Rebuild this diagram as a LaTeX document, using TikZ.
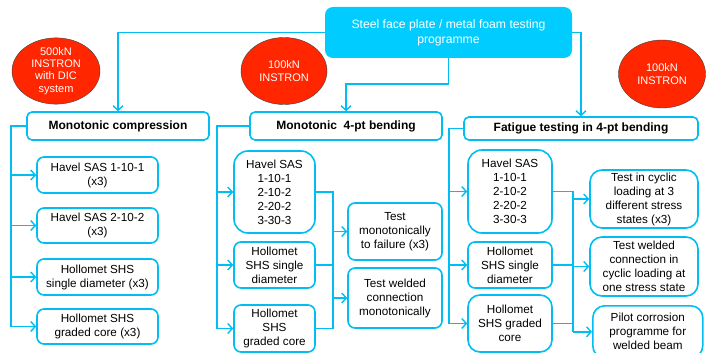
\documentclass[tikz,border=0pt]{standalone}
\usepackage{fontspec}
\setmainfont{Liberation Sans}
\usetikzlibrary{arrows.meta}
\usetikzlibrary{shapes.geometric}
\definecolor{skyline}{RGB}{0,190,242}
\definecolor{skyfill}{RGB}{0,204,255}
\definecolor{rigred}{RGB}{255,38,0}

\begin{document}
\begin{tikzpicture}[x=1pt, y=-1pt,
		conn/.style = {draw=skyline, line width=1.6pt},
		arr/.style = {conn, -{Straight Barb[length=4.5pt,width=10pt,line width=1.4pt]}},
		box/.style = {draw=skyline, line width=1.6pt, fill=white, rounded corners=7pt, align=center, inner sep=1pt,
			font=\fontsize{11.7}{14}\selectfont},
		head/.style = {box, rounded corners=5pt, font=\fontsize{12}{14}\selectfont\bfseries},
		rig/.style = {ellipse, draw=black!75, thin, fill=rigred, text=white, align=center, inner sep=0pt,
			font=\fontsize{11}{12.2}\selectfont}]
			\useasboundingbox (0,0) rectangle (710,353);
			\node[fill=skyfill, rounded corners=8pt, text=white, align=center, minimum width=247, minimum height=51,
				font=\fontsize{12.2}{15}\selectfont] (prog) at (448.5,32.5) {Steel face plate / metal foam testing\\programme};
			\node[rig, minimum width=88, minimum height=65] (rig1) at (56,71) {500kN\\INSTRON\\with DIC\\system};
			\node[rig, minimum width=86, minimum height=67] (rig2) at (284,71) {100kN\\INSTRON};
			\node[rig, minimum width=87, minimum height=68] (rig3) at (662,74) {100kN\\INSTRON};

			\node[head, minimum width=182, minimum height=28] (comp) at (118,126) {Monotonic compression};
			\node[head, minimum width=192, minimum height=28] (bend) at (346,126) {Monotonic\ \ 4-pt bending};
			\node[head, minimum width=234, minimum height=23] (fat) at (581,128.5) {Fatigue testing in 4-pt bending};

			\node[box, minimum width=121, minimum height=36] (ca) at (97.5,175) {Havel SAS 1-10-1\\(x3)};
			\node[box, minimum width=121, minimum height=35] (cb) at (97.5,225.5) {Havel SAS 2-10-2\\(x3)};
			\node[box, minimum width=121, minimum height=36] (cc) at (97.5,277) {Hollomet SHS\\single diameter (x3)};
			\node[box, minimum width=121, minimum height=35] (cd) at (97.5,326.5) {Hollomet SHS\\graded core (x3)};

			\node[box, rounded corners=14pt, minimum width=81, minimum height=82] (ba) at (274.5,192) {Havel SAS\\1-10-1\\2-10-2\\2-20-2\\3-30-3};
			\node[box, minimum width=81, minimum height=46] (bb) at (274.5,265) {Hollomet\\SHS single\\diameter};
			\node[box, minimum width=81, minimum height=47] (bc) at (274.5,328.5) {Hollomet\\SHS\\graded core};
			\node[box, minimum width=94, minimum height=57] (bx) at (395,231.5) {Test\\monotonically\\to failure (x3)};
			\node[box, minimum width=94, minimum height=60] (by) at (395,298) {Test welded\\connection\\monotonically};

			\node[box, rounded corners=14pt, minimum width=84, minimum height=83] (fa) at (510,191.5) {Havel SAS\\1-10-1\\2-10-2\\2-20-2\\3-30-3};
			\node[box, minimum width=84, minimum height=46] (fb) at (510,265) {Hollomet\\SHS single\\diameter};
			\node[box, rounded corners=12pt, minimum width=84, minimum height=57] (fc) at (510,323.5) {Hollomet\\SHS graded\\core};
			\node[box, rounded corners=12pt, minimum width=108, minimum height=58] (fx) at (644,199) {Test in cyclic\\loading at 3\\different stress\\states (x3)};
			\node[box, rounded corners=12pt, minimum width=108, minimum height=59] (fy) at (644,266.5) {Test welded\\connection in\\cyclic loading at\\one stress state};
			\node[box, rounded corners=12pt, minimum width=110, minimum height=52, anchor=north west] (fz) at (592,305) {Pilot corrosion\\programme for\\welded beam};

			\draw[arr] (prog.west) -| (comp.north);
			\draw[arr] (prog.south) -- ++(0,26) -| (bend.north);
			\draw[arr] (prog.east) -| (fat.north);

			\draw[conn] (comp.west) -- ++(-15,0) coordinate (cl) -- (cl |- cd.west);
			\foreach \n in {ca,cb,cc,cd}
				\draw[arr] (cl |- \n.west) -- (\n.west);

			\draw[conn] (bend.west) -- ++(-32,0) coordinate (bl) -- (bl |- bc.west);
			\foreach \n in {ba,bb,bc}
				\draw[arr] (bl |- \n.west) -- (\n.west);
			\draw[conn] (ba.east) -- ++(17,0) coordinate (br) -- (br |- bc.east) -- (bc.east);
			\draw[conn] (bb.east) -- (br |- bb.east);
			\foreach \n in {bx,by}
				\draw[arr] (br |- \n.west) -- (\n.west);

			\draw[conn] (fat.west) -- ++(-14,0) coordinate (fl) -- (fl |- fc.west);
			\foreach \n in {fa,fb,fc}
				\draw[arr] (fl |- \n.west) -- (\n.west);
			\draw[conn] (fa.east) -- ++(20,0) coordinate (fr) -- (fr |- fz.west);
			\draw[conn] (fb.east) -- (fr |- fb.east);
			\draw[conn] (fc.east) -- (fr |- fc.east);
			\foreach \n in {fx,fy,fz}
				\draw[arr] (fr |- \n.west) -- (\n.west);
		\end{tikzpicture}
\end{document}
